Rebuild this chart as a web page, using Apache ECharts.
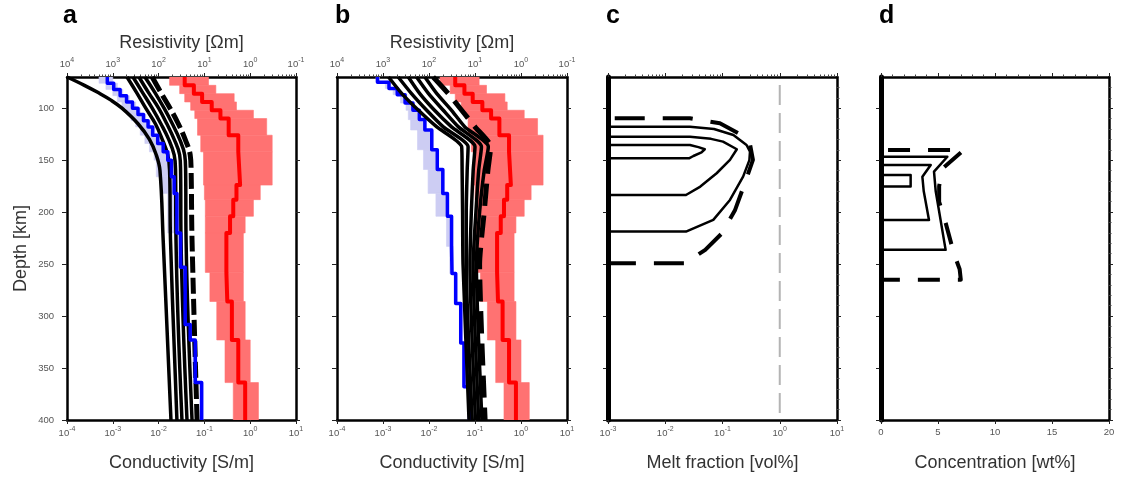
<!DOCTYPE html>
<html><head><meta charset="utf-8">
<script src="https://cdn.jsdelivr.net/npm/echarts@6/dist/echarts.min.js"></script>
<style>html,body{margin:0;padding:0;background:#fff}#chart{width:1122px;height:477px}</style>
</head><body><div id="chart"></div>
<script>
// ================= DATA =================
const depthTicks = [100, 150, 200, 250, 300, 350, 400];
const depthMin = 70, depthMax = 400;
const panelLetters = ['a', 'b', 'c', 'd'];

// Observed resistivity model (red), log10 conductivity per layer (panels a & b)
const redDepths   = [70, 78, 86, 94, 102, 110, 126, 142, 174, 188, 204, 220, 258, 286, 323, 364, 400];
const redMedianLog = [-1.43, -1.23, -1.05, -0.84, -0.65, -0.47, -0.26, -0.22, -0.30, -0.37, -0.44, -0.52, -0.50, -0.40, -0.26, -0.11];
const redMinLog    = [-1.76, -1.54, -1.43, -1.30, -1.21, -1.15, -1.08, -1.02, -1.00, -0.98, -0.98, -0.98, -0.88, -0.73, -0.55, -0.37];
const redMaxLog    = [-0.91, -0.75, -0.35, -0.30, 0.07, 0.36, 0.48, 0.48, 0.22, 0.07, -0.11, -0.15, -0.15, -0.11, 0.00, 0.18];

// Reference model (blue) panel a
const blueADepths = [70, 76, 82, 88, 94, 100, 106, 112, 118, 126, 134, 142, 150, 166, 182, 220, 253, 308, 323, 364, 400];
const blueALog    = [-3.12, -2.98, -2.84, -2.70, -2.57, -2.45, -2.33, -2.23, -2.13, -2.02, -1.90, -1.80, -1.72, -1.66, -1.60, -1.52, -1.42, -1.31, -1.20, -1.06];
const blueAMinLog = [-3.30, -3.15, -3.00, -2.90, -2.80, -2.70, -2.60, -2.50, -2.40, -2.30, -2.20, -2.10, -2.05, -1.95, -1.80, -1.62, -1.48, -1.36, -1.25, -1.10];
const blueAMaxLog = [-3.00, -2.90, -2.78, -2.64, -2.50, -2.40, -2.28, -2.18, -2.08, -1.96, -1.85, -1.75, -1.68, -1.62, -1.56, -1.48, -1.38, -1.28, -1.16, -1.03];

// Reference model (blue) panel b
const blueBDepths = [70, 75, 81, 87, 95, 102, 111, 121, 140, 159, 182, 204, 233, 259, 288, 326, 368, 400];
const blueBLog    = [-3.12, -2.87, -2.69, -2.52, -2.35, -2.21, -2.09, -1.94, -1.82, -1.70, -1.60, -1.51, -1.50, -1.42, -1.31, -1.24, -1.12];
const blueBMinLog = [-3.15, -2.95, -2.78, -2.62, -2.50, -2.45, -2.40, -2.25, -2.12, -2.02, -1.85, -1.62, -1.55, -1.45, -1.34, -1.27, -1.15];
const blueBMaxLog = [-3.08, -2.83, -2.65, -2.48, -2.32, -2.18, -2.06, -1.91, -1.79, -1.67, -1.57, -1.48, -1.47, -1.39, -1.28, -1.21, -1.09];

// Calculated conductivity profiles, panel a (log10 S/m)
const curveA1Depths = [70, 78, 85, 92, 100, 115, 130, 145, 160, 227, 400];
const curveA1Log    = [-4.0, -3.62, -3.32, -3.05, -2.80, -2.45, -2.20, -2.05, -1.97, -1.90, -1.73];
const curveADepths  = [70, 85, 100, 115, 130, 145, 160, 227, 400];
const curveA2Log = [-2.69, -2.48, -2.28, -2.07, -1.92, -1.80, -1.76, -1.74, -1.60];
const curveA3Log = [-2.56, -2.35, -2.14, -1.95, -1.78, -1.66, -1.63, -1.62, -1.49];
const curveA4Log = [-2.43, -2.22, -2.00, -1.82, -1.66, -1.54, -1.52, -1.51, -1.38];
const curveA5Log = [-2.30, -2.08, -1.88, -1.70, -1.54, -1.43, -1.41, -1.40, -1.27];
const curveA6Log = [-2.14, -1.95, -1.75, -1.57, -1.42, -1.31, -1.29, -1.27, -1.16]; // dashed

// Calculated conductivity profiles, panel b
const curveBDepths = [70, 86, 102, 118, 137, 160, 200, 250, 400];
const curveB1Log = [-2.88, -2.59, -2.23, -1.83, -1.29, -1.28, -1.27, -1.26, -1.13];
const curveB2Log = [-2.67, -2.38, -2.05, -1.69, -1.15, -1.17, -1.19, -1.19, -1.06];
const curveB3Log = [-2.45, -2.20, -1.88, -1.51, -1.00, -1.04, -1.08, -1.11, -0.99];
const curveB4Log = [-2.27, -2.01, -1.69, -1.36, -0.86, -0.92, -0.98, -1.04, -0.92];
const curveB5Log = [-2.09, -1.83, -1.51, -1.22, -0.71, -0.80, -0.90, -0.97, -0.85];
const curveB6Log = [-1.91, -1.58, -1.29, -1.00, -0.66, -0.72, -0.80, -0.90, -0.78]; // dashed

// Panel c: melt fraction [vol%] profiles (0 = no melt)
const meltRefValue = 1;
const c1Depths = [70, 135.4, 135.4, 137.5, 139.5, 142.5, 146, 148.2, 148.2, 400];
const c1Melt   = [0, 0, 0.027, 0.038, 0.049, 0.043, 0.031, 0.026, 0, 0];
const c2Depths = [70, 127.4, 127.4, 129.5, 132.2, 139.5, 149.8, 162.6, 175.4, 183.5, 183.5, 400];
const c2Melt   = [0, 0, 0.027, 0.063, 0.102, 0.178, 0.135, 0.079, 0.041, 0.023, 0, 0];
const c3Depths = [70, 117.8, 117.8, 120, 125.8, 135.4, 141.8, 150, 165.8, 188.3, 207.5, 218.7, 218.7, 400];
const c3Melt   = [0, 0, 0.027, 0.071, 0.155, 0.263, 0.302, 0.295, 0.229, 0.135, 0.069, 0.023, 0, 0];
const c4Depths = [70, 109.7, 109.7, 114.5, 124.1, 133.7, 149.8, 172.2, 197.9, 220.3, 236.3, 244.3, 249.2, 249.2, 400];
const c4Melt   = [0, 0, 0.027, 0.09, 0.19, 0.30, 0.34, 0.245, 0.166, 0.098, 0.050, 0.030, 0.024, 0, 0];

// Panel d: concentration [wt%] profiles
const d1Depths = [70, 164.2, 164.2, 175.4, 175.4, 400];
const d1Conc   = [0, 0, 2.6, 2.6, 0, 0];
const d2Depths = [70, 154.6, 154.6, 166, 180, 207.5, 207.5, 400];
const d2Conc   = [0, 0, 4.36, 3.63, 3.75, 4.21, 0, 0];
const d3Depths = [70, 146.7, 146.7, 161, 180, 236.3, 236.3, 400];
const d3Conc   = [0, 0, 5.82, 4.65, 4.8, 5.67, 0, 0];
const d4Depths = [70, 140.2, 140.2, 158, 175, 190, 207.5, 240, 255, 265.1, 265.1, 400];
const d4Conc   = [0, 0, 7.28, 5.4, 5.1, 5.1, 5.6, 6.4, 6.9, 7.0, 0, 0];

// ================= BUILD =================
const FONT = '"Liberation Sans", Arial, Helvetica, sans-serif';
const chart = echarts.init(document.getElementById('chart'), null, {renderer: 'canvas'});

const grids = [
  {left: 67, top: 77, width: 229, height: 343},
  {left: 337, top: 77, width: 230, height: 343},
  {left: 608, top: 77, width: 229, height: 343},
  {left: 881, top: 77, width: 228, height: 343}
];

function logMinor(e0, e1) { const a = []; for (let k = e0; k < e1; k++) for (let m = 2; m <= 9; m++) a.push(+(m * Math.pow(10, k)).toPrecision(6)); return a; }
const depthMinor = []; for (let d = 80; d < 400; d += 10) if (d % 50 !== 0) depthMinor.push(d);
const linMinor = []; for (let v = 1; v < 20; v++) if (v % 5 !== 0) linMinor.push(v);

const supRich = {
  b: {fontSize: 9.5, color: '#555', fontFamily: FONT, lineHeight: 12, verticalAlign: 'bottom'},
  s: {fontSize: 7, color: '#555', fontFamily: FONT, lineHeight: 8, verticalAlign: 'top'}
};
function logFmt(invert) { return function (v) { let e = Math.round(Math.log10(v)); if (invert) e = -e; return '{b|10}{s|' + e + '}'; }; }

const nameStyle = {fontSize: 18, color: '#333', fontFamily: FONT};
const frame = {show: true, onZero: false, lineStyle: {color: '#000', width: 2.5}};
const thickFrame = {show: true, onZero: false, lineStyle: {color: '#000', width: 5}};
const tickMajor = {show: true, length: 4, lineStyle: {color: '#222', width: 1}};

const panelCfg = [
  {type: 'log', min: 1e-4, max: 10, bottomName: 'Conductivity [S/m]', topName: 'Resistivity [Ωm]', topMinor: logMinor(-4, 1), depthLabels: true},
  {type: 'log', min: 1e-4, max: 10, bottomName: 'Conductivity [S/m]', topName: 'Resistivity [Ωm]', topMinor: logMinor(-4, 1)},
  {type: 'log', min: 1e-3, max: 10, bottomName: 'Melt fraction [vol%]', topMinor: logMinor(-3, 1), rightMinor: depthMinor, thickLeft: true},
  {type: 'value', min: 0, max: 20, interval: 5, bottomName: 'Concentration [wt%]', topMinor: linMinor, rightMinor: depthMinor, thickLeft: true}
];

const xAxes = [], yAxes = [], series = [], axisIdx = [];
panelCfg.forEach((cfg, p) => {
  const base = {gridIndex: p, type: cfg.type, min: cfg.min, max: cfg.max, splitLine: {show: false}, minorSplitLine: {show: false}};
  if (cfg.type === 'log') base.logBase = 10;
  if (cfg.interval) base.interval = cfg.interval;
  const xi = xAxes.length;
  xAxes.push(Object.assign({}, base, {
    position: 'bottom', axisLine: frame, axisTick: tickMajor,
    axisLabel: cfg.type === 'log'
      ? {formatter: logFmt(false), rich: supRich, margin: 6}
      : {fontSize: 9.5, color: '#555', fontFamily: FONT, margin: 7},
    name: cfg.bottomName, nameLocation: 'middle', nameGap: 34, nameTextStyle: nameStyle
  }));
  xAxes.push(Object.assign({}, base, {
    position: 'top', axisLine: frame, axisTick: tickMajor,
    axisLabel: cfg.topName ? {formatter: logFmt(true), rich: supRich, margin: 8} : {show: false},
    name: cfg.topName || '', nameLocation: 'middle', nameGap: 24, nameTextStyle: nameStyle
  }));
  xAxes.push(Object.assign({}, base, {
    position: 'top', axisLine: {show: false, onZero: false},
    axisTick: {show: true, length: 2.5, customValues: cfg.topMinor, lineStyle: {color: '#444', width: 1}},
    axisLabel: {show: false}
  }));
  const ybase = {gridIndex: p, type: 'value', min: depthMin, max: depthMax, inverse: true, splitLine: {show: false}};
  const yi = yAxes.length;
  yAxes.push(Object.assign({}, ybase, {
    position: 'left', axisLine: cfg.thickLeft ? thickFrame : frame,
    axisTick: Object.assign({}, tickMajor, {length: 5, customValues: depthTicks}),
    axisLabel: cfg.depthLabels ? {customValues: depthTicks, fontSize: 9.5, color: '#555', fontFamily: FONT, margin: 13} : {show: false},
    name: cfg.depthLabels ? 'Depth [km]' : '', nameLocation: 'middle', nameGap: 37, nameTextStyle: nameStyle
  }));
  yAxes.push(Object.assign({}, ybase, {
    position: 'right', axisLine: frame,
    axisTick: Object.assign({}, tickMajor, {length: 4, customValues: depthTicks}),
    axisLabel: {show: false}
  }));
  if (cfg.rightMinor) {
    yAxes.push(Object.assign({}, ybase, {
      position: 'right', axisLine: {show: false, onZero: false},
      axisTick: {show: true, length: 2.5, customValues: cfg.rightMinor, lineStyle: {color: '#444', width: 1}},
      axisLabel: {show: false}
    }));
  }
  axisIdx.push({x: xi, y: yi});
});

const pow10 = v => Math.pow(10, v);
function stepPoints(depths, logs) {
  const pts = [];
  logs.forEach((v, i) => { pts.push([pow10(v), depths[i]], [pow10(v), depths[i + 1]]); });
  return pts;
}
function bandRows(depths, minLog, maxLog) {
  return minLog.map((v, i) => [pow10(v), pow10(maxLog[i]), depths[i], depths[i + 1]]);
}
function curvePts(depths, logs) { return logs.map((v, i) => [pow10(v), depths[i]]); }
function bandSeries(p, rows, color, z) {
  return {
    type: 'custom', xAxisIndex: axisIdx[p].x, yAxisIndex: axisIdx[p].y, z: z, silent: true,
    encode: {x: [0, 1], y: [2, 3]}, data: rows, clip: true,
    renderItem: function (params, api) {
      const a = api.coord([api.value(0), api.value(2)]);
      const b = api.coord([api.value(1), api.value(3)]);
      return {type: 'rect', shape: {x: Math.min(a[0], b[0]), y: Math.min(a[1], b[1]), width: Math.abs(b[0] - a[0]), height: Math.abs(b[1] - a[1])},
        style: {fill: color, stroke: color, lineWidth: 0.6}};
    }
  };
}
function lineSeries(p, data, color, width, type, smooth, z, dashOffset) {
  return {type: 'line', xAxisIndex: axisIdx[p].x, yAxisIndex: axisIdx[p].y, data: data, showSymbol: false, symbol: 'none',
    smooth: smooth, silent: true, z: z, clip: true,
    lineStyle: {color: color, width: width, type: type || 'solid', dashOffset: dashOffset || 0, cap: 'butt', join: 'round'}};
}

const RED = '#ff0000', PINK = '#ff7272', BLUE = '#0000ff', LAV = '#cdcdf3';

// Panel a
series.push(bandSeries(0, bandRows(redDepths, redMinLog, redMaxLog), PINK, 1));
series.push(bandSeries(0, bandRows(blueADepths, blueAMinLog, blueAMaxLog), LAV, 1));
series.push(lineSeries(0, curvePts(curveA1Depths, curveA1Log), '#000', 3.5, 'solid', 0.4, 3));
[curveA2Log, curveA3Log, curveA4Log, curveA5Log].forEach(c => series.push(lineSeries(0, curvePts(curveADepths, c), '#000', 3.5, 'solid', 0.4, 3)));
series.push(lineSeries(0, curvePts(curveADepths, curveA6Log), '#000', 5, [16, 5], 0.4, 3));
series.push(lineSeries(0, stepPoints(blueADepths, blueALog), BLUE, 3.5, 'solid', false, 4));
series.push(lineSeries(0, stepPoints(redDepths, redMedianLog), RED, 4, 'solid', false, 4));

// Panel b
series.push(bandSeries(1, bandRows(redDepths, redMinLog, redMaxLog), PINK, 1));
series.push(bandSeries(1, bandRows(blueBDepths, blueBMinLog, blueBMaxLog), LAV, 1));
series.push(lineSeries(1, stepPoints(blueBDepths, blueBLog), BLUE, 3.5, 'solid', false, 2));
[curveB1Log, curveB2Log, curveB3Log, curveB4Log, curveB5Log].forEach(c => series.push(lineSeries(1, curvePts(curveBDepths, c), '#000', 3.5, 'solid', 0.2, 3)));
series.push(lineSeries(1, curvePts(curveBDepths, curveB6Log), '#000', 5, [22, 10], 0.2, 3));
series.push(lineSeries(1, stepPoints(redDepths, redMedianLog), RED, 4, 'solid', false, 4));

// Panel c
const meltFloor = panelCfg[2].min;
function meltPts(depths, vals) { return vals.map((v, i) => [v > 0 ? v : meltFloor, depths[i]]); }
series.push(lineSeries(2, [[meltRefValue, depthMin], [meltRefValue, depthMax]], '#b4b4b4', 2, [20, 8], false, 2, 20));
series.push(lineSeries(2, meltPts(c1Depths, c1Melt), '#000', 2.5, 'solid', false, 3));
series.push(lineSeries(2, meltPts(c2Depths, c2Melt), '#000', 2.5, 'solid', false, 3));
series.push(lineSeries(2, meltPts(c3Depths, c3Melt), '#000', 2.5, 'solid', false, 3));
series.push(lineSeries(2, meltPts(c4Depths, c4Melt), '#000', 4, [30, 18], false, 3));

// Panel d
function concPts(depths, vals) { return vals.map((v, i) => [v, depths[i]]); }
series.push(lineSeries(3, concPts(d1Depths, d1Conc), '#000', 2.5, 'solid', false, 3));
series.push(lineSeries(3, concPts(d2Depths, d2Conc), '#000', 2.5, 'solid', false, 3));
series.push(lineSeries(3, concPts(d3Depths, d3Conc), '#000', 2.5, 'solid', false, 3));
series.push(lineSeries(3, concPts(d4Depths, d4Conc), '#000', 4, [22, 18], false, 3));

const titleLeft = [63, 335, 606, 879];
const titles = panelLetters.map((t, i) => ({text: t, left: titleLeft[i], top: 4, padding: 0,
  textStyle: {fontSize: 25, fontWeight: 'bold', color: '#000', fontFamily: FONT}}));

chart.setOption({
  animation: false,
  backgroundColor: '#fff',
  title: titles,
  grid: grids,
  xAxis: xAxes,
  yAxis: yAxes,
  series: series
});
</script></body></html>
